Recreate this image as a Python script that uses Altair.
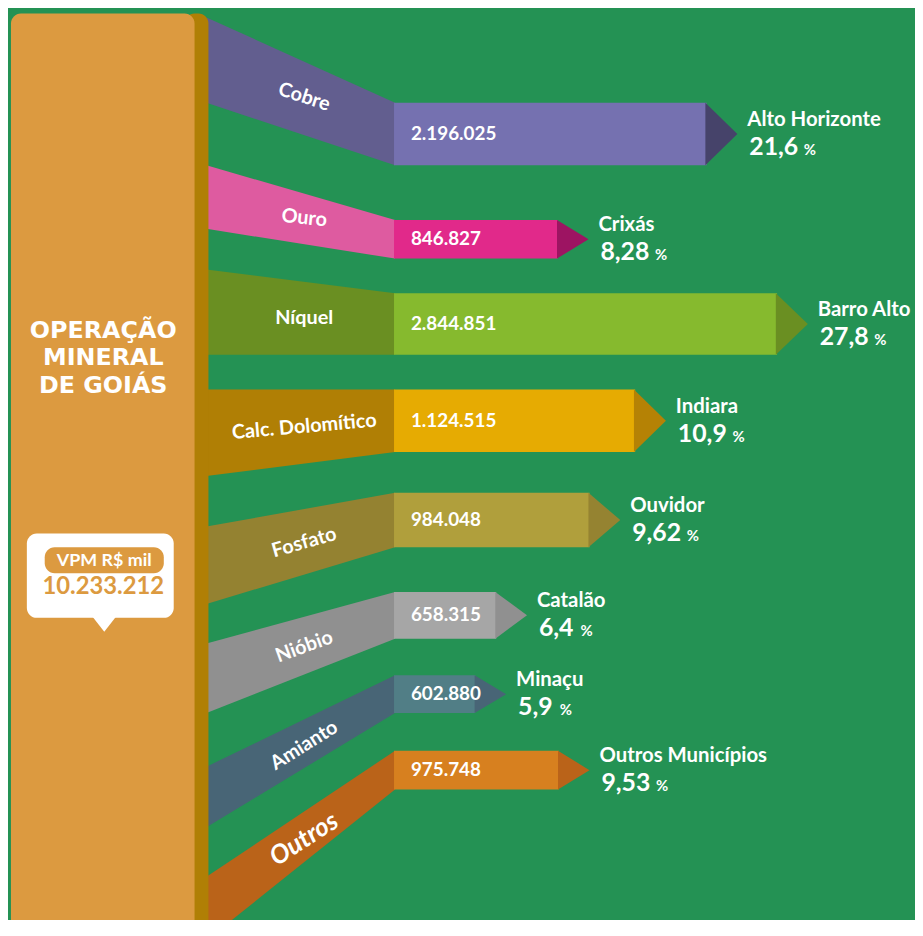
import altair as alt
import pandas as pd

# ---------------- data ----------------
minerals = ["Cobre", "Ouro", "Níquel", "Calc. Dolomítico", "Fosfato", "Nióbio", "Amianto", "Outros"]
vpm = [2196025, 846827, 2844851, 1124515, 984048, 658315, 602880, 975748]
vpm_labels = ["2.196.025", "846.827", "2.844.851", "1.124.515", "984.048", "658.315", "602.880", "975.748"]
municipios = ["Alto Horizonte", "Crixás", "Barro Alto", "Indiara", "Ouvidor", "Catalão", "Minaçu", "Outros Municípios"]
shares = ["21,6", "8,28", "27,8", "10,9", "9,62", "6,4", "5,9", "9,53"]
title_lines = ["OPERAÇÃO", "MINERAL", "DE GOIÁS"]
unit_label = "VPM R$ mil"
total_label = "10.233.212"

# ---------------- layout (reference pixels) ----------------
W, H, M = 914, 912, 8
strip_top = [14, 163, 268, 389, 527, 645, 769, 880]
strip_bot = [100, 227, 354, 476, 605, 715, 830, 944]
bar_top = [100, 218, 292, 389, 493, 593, 677, 753]
bar_bot = [163, 257, 354, 452, 548, 640, 715, 792]
bar_end = [712, 562, 783, 640, 594, 500, 479, 563]   # display scale of the infographic
label_angle = [18, 6, 0, 355, 344, 340, 328, 327]
FUNNEL_X0, BAR_X0, ARROW = 208, 397, 31

# ---------------- styles ----------------
BG = "#249254"
PANEL = "#DC9A40"
STRIP = "#B07F05"
funnel_colors = ["#625E8F", "#DE5BA0", "#6A8F22", "#B07F05", "#948231", "#909090", "#486576", "#BA6319"]
bar_colors = ["#7571B0", "#E1298A", "#86BA2E", "#E6AB02", "#B09F3C", "#A6A6A6", "#517E86", "#D7801F"]
arrow_colors = ["#46436A", "#9D1462", "#6A8F22", "#B58205", "#958331", "#909090", "#486576", "#BA6319"]
FONT = "Lato"
TFONT = "DejaVu Sans"

# ---------------- tables ----------------
df = pd.DataFrame({
    "mineral": minerals, "vpm": vpm, "vpm_label": vpm_labels,
    "municipio": municipios, "share": shares,
    "top": bar_top, "bot": bar_bot, "fill": bar_colors, "arrow": arrow_colors,
})
df["mid"] = (df["top"] + df["bot"]) / 2
df["size"] = (df["bot"] - df["top"]) ** 2
paths = [f"M-0.04,-1L{2 * ARROW / (b - t):.4f},0L-0.04,1Z" for t, b in zip(bar_top, bar_bot)]

rows = []
for i, m in enumerate(minerals):
    rows.append({"mineral": m, "x": FUNNEL_X0, "top": strip_top[i], "bot": strip_bot[i], "fill": funnel_colors[i]})
    rows.append({"mineral": m, "x": BAR_X0 + 1, "top": bar_top[i], "bot": bar_bot[i], "fill": funnel_colors[i]})
fdf = pd.DataFrame(rows)

ldf = pd.DataFrame({
    "mineral": minerals,
    "lx": [(FUNNEL_X0 + BAR_X0) / 2 + 4] * len(minerals),
    "ly": [(a + b + c + d) / 4 for a, b, c, d in zip(strip_top, strip_bot, bar_top, bar_bot)],
    "ang": label_angle,
})

xpx = alt.Scale(domain=[M, M + W], zero=False, nice=False)
ypx = alt.Scale(domain=[M, M + H], reverse=True, zero=False, nice=False)
pairs = sorted(zip(vpm, bar_end))
xval = alt.Scale(type="linear", domain=[p[0] for p in pairs], range=[p[1] - M for p in pairs],
                 zero=False, nice=False)

# ---------------- layers ----------------
funnels = alt.Chart(fdf).mark_area(orient="vertical", interpolate="linear").encode(
    x=alt.X("x:Q", scale=xpx, axis=None),
    y=alt.Y("top:Q", scale=ypx, axis=None, stack=None),
    y2="bot:Q",
    color=alt.Color("fill:N", scale=None),
    detail="mineral:N",
)

panel_df = pd.DataFrame({"x": [186, 11], "x2": [210, 196], "y": [10, 10], "y2": [980, 980], "fill": [STRIP, PANEL]})
panel = alt.Chart(panel_df).mark_rect(cornerRadius=10).encode(
    x=alt.X("x:Q", scale=xpx, axis=None), x2="x2:Q",
    y=alt.Y("y:Q", scale=ypx, axis=None), y2="y2:Q",
    color=alt.Color("fill:N", scale=None),
)

bubble_df = pd.DataFrame({"x": [27, 45], "x2": [175, 165], "y": [534, 548], "y2": [619, 574],
                          "fill": ["#FFFFFF", PANEL]})
bubble = alt.Chart(bubble_df).mark_rect(cornerRadius=10).encode(
    x=alt.X("x:Q", scale=xpx, axis=None), x2="x2:Q",
    y=alt.Y("y:Q", scale=ypx, axis=None), y2="y2:Q",
    color=alt.Color("fill:N", scale=None),
)
pointer = alt.Chart(pd.DataFrame({"x": [105], "y": [626]})).mark_point(
    filled=True, opacity=1, strokeWidth=0, color="#FFFFFF",
    shape="M-1,-0.7L1,-0.7L0,0.58Z", size=576,
).encode(x=alt.X("x:Q", scale=xpx, axis=None), y=alt.Y("y:Q", scale=ypx, axis=None))

title = alt.Chart(pd.DataFrame({"t": title_lines, "x": [104] * 3, "y": [337, 364, 392]})).mark_text(
    font=TFONT, fontWeight="bold", fontSize=24, color="white", align="center", baseline="alphabetic",
).encode(x=alt.X("x:Q", scale=xpx, axis=None), y=alt.Y("y:Q", scale=ypx, axis=None), text="t:N")

btext = alt.Chart(pd.DataFrame({"t": [unit_label, total_label], "x": [105, 104], "y": [567, 595],
                                "c": ["#FFFFFF", PANEL], "s": [18, 24]})).mark_text(
    font=FONT, fontWeight="bold", align="center", baseline="alphabetic",
).encode(x=alt.X("x:Q", scale=xpx, axis=None), y=alt.Y("y:Q", scale=ypx, axis=None), text="t:N",
         color=alt.Color("c:N", scale=None), size=alt.Size("s:Q", scale=None))

bars = alt.Chart(df).mark_rect().encode(
    x=alt.X("vpm:Q", scale=xval, axis=None),
    x2=alt.value(BAR_X0 - M),
    y=alt.Y("top:Q", scale=ypx, axis=None),
    y2="bot:Q",
    color=alt.Color("fill:N", scale=None),
)

arrows = alt.Chart(df).mark_point(filled=True, opacity=1, strokeWidth=0).encode(
    x=alt.X("vpm:Q", scale=xval, axis=None),
    y=alt.Y("mid:Q", scale=ypx, axis=None),
    shape=alt.Shape("mineral:N", scale=alt.Scale(domain=minerals, range=paths), legend=None),
    size=alt.Size("size:Q", scale=None),
    color=alt.Color("arrow:N", scale=None),
)

vals = alt.Chart(df).mark_text(font=FONT, fontWeight="bold", fontSize=19, color="white",
                               align="left", baseline="middle").encode(
    x=alt.value(414 - M), y=alt.Y("mid:Q", scale=ypx, axis=None), text="vpm_label:N")

labels = alt.Chart(ldf[ldf["mineral"] != "Outros"]).mark_text(
    font=FONT, fontWeight="bold", fontSize=20, color="white", align="center", baseline="middle",
).encode(x=alt.X("lx:Q", scale=xpx, axis=None), y=alt.Y("ly:Q", scale=ypx, axis=None),
         text="mineral:N", angle=alt.Angle("ang:Q", scale=None))
labels_o = alt.Chart(ldf[ldf["mineral"] == "Outros"]).mark_text(
    font=FONT, fontWeight="bold", fontStyle="italic", fontSize=26, color="white",
    align="center", baseline="middle",
).encode(x=alt.X("lx:Q", scale=xpx, axis=None), y=alt.Y("ly:Q", scale=ypx, axis=None),
         text="mineral:N", angle=alt.Angle("ang:Q", scale=None))

names = alt.Chart(df).mark_text(font=FONT, fontWeight="bold", fontSize=20.5, color="white",
                                align="left", baseline="alphabetic", dx=41, dy=-8).encode(
    x=alt.X("vpm:Q", scale=xval, axis=None), y=alt.Y("mid:Q", scale=ypx, axis=None), text="municipio:N")
pcts = alt.Chart(df).mark_text(font=FONT, fontWeight="bold", fontSize=25, color="white",
                               align="left", baseline="alphabetic", dx=43, dy=21).encode(
    x=alt.X("vpm:Q", scale=xval, axis=None), y=alt.Y("mid:Q", scale=ypx, axis=None), text="share:N")


def pct_sign(expr, dx):
    return alt.Chart(df).transform_filter(expr).mark_text(
        font=FONT, fontWeight="bold", fontSize=15, color="white",
        align="left", baseline="alphabetic", dx=dx, dy=21, text="%",
    ).encode(x=alt.X("vpm:Q", scale=xval, axis=None), y=alt.Y("mid:Q", scale=ypx, axis=None))


pcsign4 = pct_sign("length(datum.share) == 4", 98)
pcsign3 = pct_sign("length(datum.share) == 3", 85)

chart = alt.layer(
    funnels, panel, bubble, pointer, title, btext, bars, arrows, vals, labels, labels_o,
    names, pcts, pcsign4, pcsign3
).resolve_scale(x="independent").properties(
    width=W, height=H, autosize=alt.AutoSizeParams(type="none"), padding=0, background=BG,
).configure_view(stroke=None)

chart.save("out.html", embed_options={"renderer": "svg", "actions": False})
